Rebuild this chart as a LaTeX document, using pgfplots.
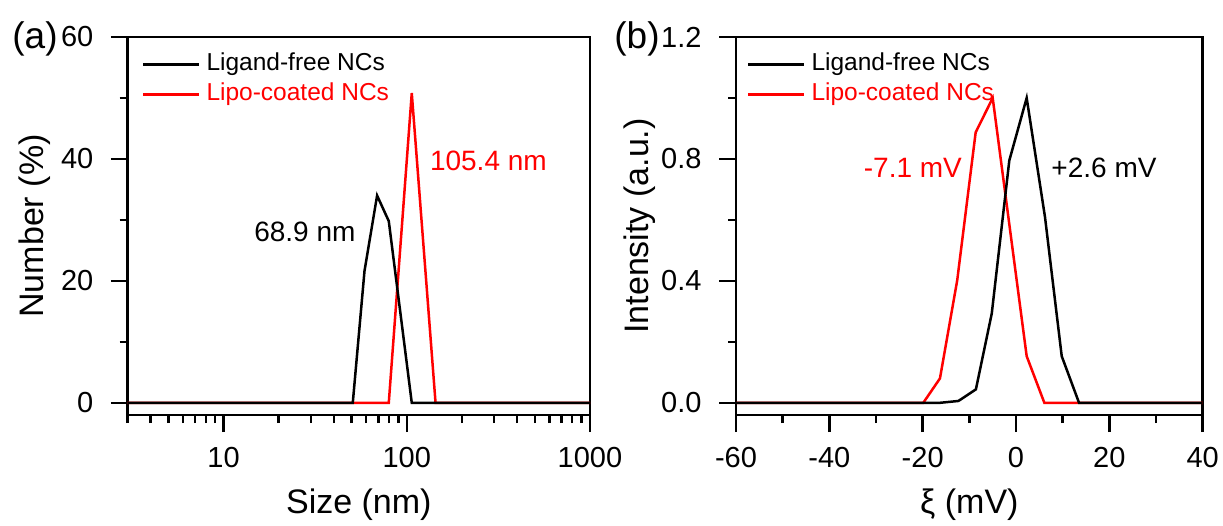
\documentclass[border=0pt]{standalone}
\usepackage{fontspec}
\setmainfont{Liberation Sans}
\usepackage{pgfplots}
\pgfplotsset{compat=1.18}
\newcommand{\legfont}{\fontsize{24.5}{26}\selectfont}
\pgfplotsset{
  myaxis/.style={
    scale only axis, anchor=south west,
    axis line style={line width=2.9pt},
    tick pos=left, tick align=outside,
    major tick length=17pt, minor tick length=8pt,
    every tick/.style={line width=2.5pt, black},
    /pgf/number format/assume math mode=true,
    tick label style={font=\fontsize{29}{29}\selectfont},
    xticklabel style={yshift=-12pt},
    yticklabel style={xshift=-14pt},
    label style={font=\fontsize{34}{34}\selectfont},
    xlabel style={at={(axis description cs:0.5,-0.236)}, anchor=center},
    legend cell align=left,
    legend style={anchor=north west, draw=none, fill=none, inner sep=0pt, outer sep=0pt,
      row sep=4pt, column sep=5pt, nodes={inner sep=1pt, text height=18pt, text depth=6pt}},
    legend image code/.code={\draw[##1, line width=2.5pt] (0pt,0pt) -- (56pt,0pt);},
  }
}
\begin{document}
\begin{tikzpicture}
\useasboundingbox (0,0) rectangle (1223pt,525pt);
% ---------------- panel (a)
\begin{axis}[myaxis,
  at={(127.7pt,110pt)}, width=462.3pt, height=378pt,
  xmode=log, xmin=3, xmax=1000, ymin=-2, ymax=60,
  xtick={10,100,1000}, xticklabels={10,100,1000},
  minor xtick={3,4,5,6,7,8,9,20,30,40,50,60,70,80,90,200,300,400,500,600,700,800,900},
  ytick={0,20,40,60}, minor ytick={10,30,50},
  xlabel={Size (nm)}, ylabel={Number (\%)},
  ylabel style={at={(axis description cs:-0.2005,0.5)}, anchor=center, rotate=0},
  legend style={at={(axis description cs:0.031,0.962)}},
]
\addlegendimage{black}
\addlegendentry{\legfont Ligand-free NCs}
\addlegendimage{red}
\addlegendentry{\legfont\textcolor{red}{Lipo-coated NCs}}
\addplot[red, line width=2.5pt, forget plot] coordinates {
 (3,0) (79.8,0) (106.5,50.8) (143.6,0) (1000,0)};
\addplot[black, line width=2.5pt, forget plot] coordinates {
 (3,0) (50.75,0) (58.8,21.6) (68.9,34.0) (79.8,29.8) (106.5,0) (1000,0)};
\node[font=\fontsize{28}{28}\selectfont, text=black] at (axis cs:27.8,28.05) {68.9 nm};
\node[font=\fontsize{28}{28}\selectfont, text=red] at (axis cs:279,39.75) {105.4 nm};
\end{axis}
% ---------------- panel (b)
\begin{axis}[myaxis,
  at={(736pt,110pt)}, width=466.7pt, height=378pt,
  xmin=-60, xmax=40, ymin=-0.04, ymax=1.2,
  xtick={-60,-40,-20,0,20,40}, minor xtick={-50,-30,-10,10,30},
  ytick={0,0.4,0.8,1.2}, minor ytick={0.2,0.6,1.0},
  yticklabel style={/pgf/number format/.cd, fixed, fixed zerofill, precision=1},
  xlabel={ξ (mV)}, ylabel={Intensity (a.u.)},
  ylabel style={at={(axis description cs:-0.2057,0.5)}, anchor=center, rotate=0},
  legend style={at={(axis description cs:0.0236,0.962)}},
]
\addlegendimage{black}
\addlegendentry{\legfont Ligand-free NCs}
\addlegendimage{red}
\addlegendentry{\legfont\textcolor{red}{Lipo-coated NCs}}
\addplot[red, line width=2.5pt, forget plot] coordinates {
 (-60,0) (-19.87,0) (-16.3,0.08) (-12.6,0.402) (-8.65,0.887) (-5.0,1.0) (2.28,0.153) (6.07,0) (40,0)};
\addplot[black, line width=2.5pt, forget plot] coordinates {
 (-60,0) (-16.3,0) (-12.35,0.006) (-8.6,0.044) (-5.2,0.293) (-1.44,0.795) (2.28,1.0) (6.21,0.609) (9.79,0.153) (13.5,0) (40,0)};
\node[font=\fontsize{28}{28}\selectfont, text=red] at (axis cs:-22.1,0.771) {-7.1 mV};
\node[font=\fontsize{28}{28}\selectfont, text=black] at (axis cs:18.85,0.771) {+2.6 mV};
\end{axis}
\node[font=\fontsize{37}{37}\selectfont] at (35pt,486pt) {(a)};
\node[font=\fontsize{37}{37}\selectfont] at (637pt,486pt) {(b)};
\end{tikzpicture}
\end{document}
